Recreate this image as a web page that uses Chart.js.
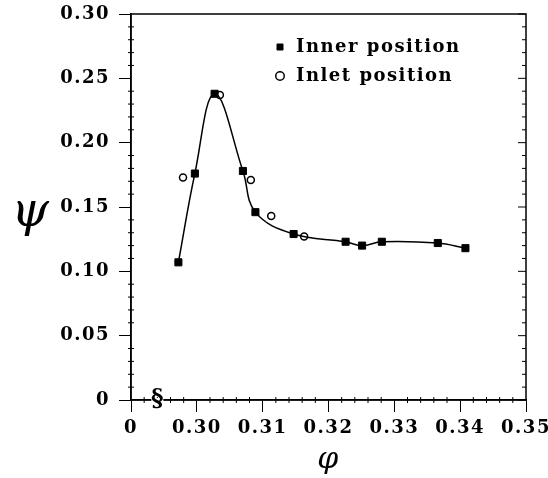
<!DOCTYPE html>
<html>
<head>
<meta charset="utf-8">
<script src="https://cdn.jsdelivr.net/npm/chart.js@4"></script>
<style>
  html, body { margin: 0; padding: 0; background: #fff; }
</style>
</head>
<body>
<canvas id="myGrafic" width="548" height="478"></canvas>
<script>
// valores
let innerPhi = [0.2972, 0.2997, 0.3027, 0.3070, 0.3089, 0.3147, 0.3226, 0.3251, 0.3281, 0.3366, 0.3408];
let innerPsi = [0.107, 0.176, 0.238, 0.178, 0.146, 0.129, 0.123, 0.120, 0.123, 0.122, 0.118];
let inletPhi = [0.2979, 0.3035, 0.3082, 0.3113, 0.3163];
let inletPsi = [0.173, 0.237, 0.171, 0.143, 0.127];

let seriesNames = ['Inner position', 'Inlet position'];

// eje x cortado: 0.29 se rotula como 0
let xTicks = [0.29, 0.30, 0.31, 0.32, 0.33, 0.34, 0.35];
let xTickLabels = ['0', '0.30', '0.31', '0.32', '0.33', '0.34', '0.35'];
let yTicks = [0, 0.05, 0.10, 0.15, 0.20, 0.25, 0.30];
let yTickLabels = ['0', '0.05', '0.10', '0.15', '0.20', '0.25', '0.30'];
let xTitle = 'φ';
let yTitle = 'ψ';

const serif = "'DejaVu Serif', serif";
const tickFont = { family: serif, size: 18, weight: 'bold' };

function toPoints(xs, ys) {
  let out = [];
  for (let i in xs) out.push({ x: xs[i], y: ys[i] });
  return out;
}

// marco, ticks menores, corte del eje y letra psi
const extras = {
  id: 'extras',
  beforeUpdate(chart) { chart.ctx.letterSpacing = '1.5px'; },
  beforeDraw(chart) { chart.ctx.letterSpacing = '1.5px'; },
  afterLayout(chart) {
    let lg = chart.legend;
    lg.left = 262; lg.right = lg.left + lg.width;
    lg.top = chart.chartArea.top + 13; lg.bottom = lg.top + lg.height;
  },
  afterDraw(chart) {
    const ctx = chart.ctx, a = chart.chartArea;
    const xs = chart.scales.x, ys = chart.scales.y;
    ctx.save();
    ctx.strokeStyle = '#000';
    ctx.lineWidth = 1.5;
    ctx.strokeRect(a.left, a.top, a.right - a.left, a.bottom - a.top);

    ctx.lineWidth = 1;
    ctx.beginPath();
    for (let i = 0; i <= 30; i++) {
      if (i % 5 === 0) continue;
      let px = xs.getPixelForValue(0.29 + i * 0.002);
      ctx.moveTo(px, a.bottom - 3); ctx.lineTo(px, a.bottom + 3);
    }
    for (let i = 0; i <= 30; i++) {
      let major = i % 5 === 0;
      let py = ys.getPixelForValue(i * 0.01);
      if (!major) { ctx.moveTo(a.left - 3, py); ctx.lineTo(a.left + 3, py); }
      ctx.moveTo(a.right, py); ctx.lineTo(a.right - (major ? 8 : 4), py);
    }
    ctx.stroke();

    // simbolo de corte
    let bx = xs.getPixelForValue(0.294), by = a.bottom;
    ctx.fillStyle = '#fff';
    ctx.fillRect(bx - 6, by - 2, 12, 4);
    ctx.fillStyle = '#000';
    ctx.letterSpacing = '0px';
    ctx.font = 'bold 24px ' + serif;
    ctx.textAlign = 'center';
    ctx.textBaseline = 'alphabetic';
    ctx.fillText('§', bx, by + 6);

    ctx.textBaseline = 'middle';
    ctx.font = 'italic 48px ' + serif;
    ctx.fillText(yTitle, 30, ys.getPixelForValue(0.145));
    ctx.restore();
  }
};

let myChart = {
  type: 'scatter',
  data: {
    datasets: [{
      label: seriesNames[0],
      data: toPoints(innerPhi, innerPsi),
      showLine: true,
      tension: 0.4,
      borderColor: '#000',
      borderWidth: 1.5,
      backgroundColor: '#000',
      pointStyle: 'rect',
      pointRadius: 5,
      pointBorderWidth: 1
    }, {
      label: seriesNames[1],
      data: toPoints(inletPhi, inletPsi),
      showLine: false,
      borderColor: '#000',
      backgroundColor: '#fff',
      pointStyle: 'circle',
      pointRadius: 3.5,
      pointBorderWidth: 1.5
    }]
  },
  options: {
    responsive: false,
    animation: false,
    events: [],
    layout: { padding: { top: 14, right: 22, left: 0, bottom: 0 } },
    plugins: {
      tooltip: { enabled: false },
      legend: {
        position: 'chartArea',
        align: 'start',
        labels: {
          usePointStyle: true,
          boxWidth: 14,
          boxHeight: 6,
          padding: 11,
          color: '#000',
          font: tickFont
        }
      }
    },
    scales: {
      x: {
        type: 'linear',
        min: 0.29,
        max: 0.35,
        afterBuildTicks: (scale) => { scale.ticks = xTicks.map(v => ({ value: v })); },
        afterFit: (scale) => { scale.height = 78; scale.paddingLeft = 0; scale.paddingRight = 0; },
        ticks: {
          color: '#000',
          font: tickFont,
          padding: 6,
          maxRotation: 0,
          callback: (v, i) => xTickLabels[i]
        },
        grid: { drawOnChartArea: false, drawTicks: true, tickLength: 12, color: '#000', lineWidth: 1 },
        border: { display: true, color: '#000', width: 1.5 },
        title: {
          display: true,
          text: xTitle,
          color: '#000',
          font: { family: serif, size: 30, style: 'italic' },
          padding: { top: 0, bottom: 0 }
        }
      },
      y: {
        type: 'linear',
        min: 0,
        max: 0.30,
        afterBuildTicks: (scale) => { scale.ticks = yTicks.map(v => ({ value: v })); },
        afterFit: (scale) => { scale.width = 131; scale.paddingTop = 0; scale.paddingBottom = 0; },
        ticks: {
          color: '#000',
          font: tickFont,
          padding: 9,
          callback: (v, i) => yTickLabels[i]
        },
        grid: { drawOnChartArea: false, drawTicks: true, tickLength: 12, color: '#000', lineWidth: 1 },
        border: { display: true, color: '#000', width: 1.5 }
      }
    }
  },
  plugins: [extras]
};

var myGrafic = document.getElementById('myGrafic');
window.grafico = new Chart(myGrafic, myChart);
</script>
</body>
</html>
